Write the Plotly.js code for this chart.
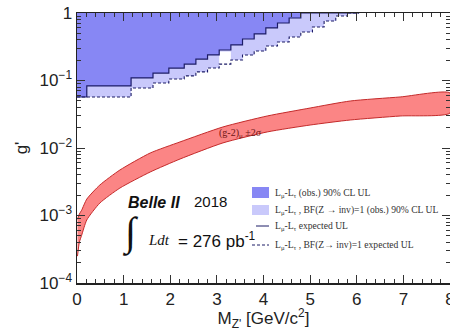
<!DOCTYPE html>
<html>
<head>
<meta charset="utf-8">
<script src="https://cdn.plot.ly/plotly-3.0.1.min.js"></script>
<style>html,body{margin:0;padding:0;background:#fff;}#plot{width:450px;height:331px;}</style>
</head>
<body>
<div id="plot"></div>
<script>
// Bin edges (GeV/c^2) of the stepped upper-limit curves
const binEdges = [0, 0.21, 1.16, 1.63, 1.97, 2.30, 2.55, 2.80, 3.05, 3.30, 3.55, 3.80, 4.05, 4.30, 4.55, 4.80, 5.05, 5.30, 5.55, 5.80, 6.05];
// L_mu - L_tau observed 90% CL UL on g'
const obsUL = [0.057, 0.083, 0.109, 0.129, 0.153, 0.175, 0.208, 0.239, 0.283, 0.336, 0.412, 0.489, 0.600, 0.711, 0.843, 1.0, 1.0, 1.0, 1.0, 1.0];
// L_mu - L_tau, BF(Z' -> inv) = 1 observed 90% CL UL
const obsULinv = [0.057, 0.057, 0.0774, 0.0918, 0.105, 0.117, 0.134, 0.153, 0.27, 0.201, 0.239, 0.274, 0.325, 0.372, 0.441, 0.523, 0.621, 0.761, 0.903, 1.0];
// expected UL curves
const expUL = [0.057, 0.083, 0.109, 0.129, 0.153, 0.175, 0.208, 0.239, 0.283, 0.336, 0.412, 0.489, 0.600, 0.711, 0.843, 1.0, 1.0, 1.0, 1.0, 1.0];
const expULinv = [0.057, 0.057, 0.0774, 0.0918, 0.105, 0.117, 0.134, 0.153, 0.175, 0.201, 0.239, 0.274, 0.325, 0.372, 0.441, 0.523, 0.621, 0.761, 0.903, 1.0];

// (g-2)_mu +-2 sigma band
const bandMass = [0.01, 0.05, 0.1, 0.21, 0.49, 0.92, 1.57, 2.21, 3.13, 4.08, 5.0, 5.86, 6.93, 8.0];
const bandUpper = [8.8e-4, 1.05e-3, 1.2e-3, 1.75e-3, 2.83e-3, 4.72e-3, 8.43e-3, 0.0123, 0.0205, 0.0298, 0.0391, 0.0497, 0.057, 0.0653];
const bandLower = [2.5e-4, 4.0e-4, 5.1e-4, 8.6e-4, 1.53e-3, 2.55e-3, 4.41e-3, 6.87e-3, 0.0119, 0.0173, 0.0219, 0.026, 0.0298, 0.033];

const xTicks = [0, 1, 2, 3, 4, 5, 6, 7, 8];
const yTicks = [1e-4, 1e-3, 1e-2, 1e-1, 1];
const yTickText = ['10<sup>−4</sup>', '10<sup>−3</sup>', '10<sup>−2</sup>', '10<sup>−1</sup>', '1'];

function staircase(edges, vals) {
  const xs = [], ys = [];
  for (let i = 0; i < vals.length; i++) {
    xs.push(edges[i], edges[i + 1]);
    ys.push(vals[i], vals[i]);
  }
  return {xs, ys};
}
// region above a stepped limit, closed along g' = 1
function excluded(edges, vals) {
  const s = staircase(edges, vals);
  const last = edges[edges.length - 1];
  return {x: s.xs.concat([last, 0]), y: s.ys.concat([1, 1])};
}

const lightReg = excluded(binEdges, obsULinv);
const darkReg = excluded(binEdges, obsUL);
const solid = staircase(binEdges, expUL);
const dashed = staircase(binEdges, expULinv);

const traces = [
  {x: bandMass.concat(bandMass.slice().reverse()),
   y: bandUpper.concat(bandLower.slice().reverse()),
   type: 'scatter', mode: 'lines', fill: 'toself', fillcolor: '#fb8585',
   line: {color: '#c42a2a', width: 1, shape: 'spline', smoothing: 0.6}, hoverinfo: 'skip'},
  {x: lightReg.x, y: lightReg.y, type: 'scatter', mode: 'lines', fill: 'toself',
   fillcolor: '#c9c9fb', line: {width: 0}, hoverinfo: 'skip'},
  {x: darkReg.x, y: darkReg.y, type: 'scatter', mode: 'lines', fill: 'toself',
   fillcolor: '#8787f4', line: {width: 0}, hoverinfo: 'skip'},
  {x: solid.xs, y: solid.ys, type: 'scatter', mode: 'lines',
   line: {color: '#1c1c66', width: 1.2}, hoverinfo: 'skip'},
  {x: dashed.xs, y: dashed.ys, type: 'scatter', mode: 'lines',
   line: {color: '#1c1c66', width: 1.1, dash: '3px,2px'}, hoverinfo: 'skip'}
];

const px = v => (v - 77) / 373;
const py = v => (283 - v) / 270;
const sans = 'Liberation Sans, Arial, sans-serif';
const serif = 'Liberation Serif, Times New Roman, serif';
const legFont = {family: serif, size: 9.6, color: '#333'};

const annotations = [
  {text: '(g-2)<sub>μ</sub> ±2σ', x: px(240), y: py(133), font: {family: serif, size: 10, color: '#6e1414'}},
  {text: '<b><i>Belle II</i></b>', x: px(126), y: py(202), xanchor: 'left', font: {family: sans, size: 16, color: '#111'}},
  {text: '2018', x: px(192), y: py(201), xanchor: 'left', font: {family: sans, size: 15, color: '#111'}},
  {text: '∫', x: px(130), y: py(232), font: {family: serif, size: 40, color: '#111'}},
  {text: '<i>Ldt</i>', x: px(146), y: py(240), xanchor: 'left', font: {family: serif, size: 15, color: '#111'}},
  {text: '= 276 pb<sup>-1</sup>', x: px(176), y: py(240), xanchor: 'left', font: {family: sans, size: 17, color: '#111'}},
  {text: 'L<sub>μ</sub>-L<sub>τ</sub> (obs.) 90% CL UL', x: px(273), y: py(193), xanchor: 'left', font: legFont},
  {text: 'L<sub>μ</sub>-L<sub>τ</sub> , BF(Z → inv)=1 (obs.) 90% CL UL', x: px(273), y: py(210), xanchor: 'left', font: legFont},
  {text: 'L<sub>μ</sub>-L<sub>τ</sub> expected UL', x: px(273), y: py(226), xanchor: 'left', font: legFont},
  {text: 'L<sub>μ</sub>-L<sub>τ</sub> , BF(Z→ inv)=1 expected UL', x: px(273), y: py(245), xanchor: 'left', font: legFont}
].map(a => Object.assign({xref: 'paper', yref: 'paper', showarrow: false, yanchor: 'middle', xanchor: a.xanchor || 'center'}, a));

const shapes = [
  {type: 'rect', x0: px(252), x1: px(269), y0: py(198), y1: py(187), fillcolor: '#8787f4', line: {width: 0}},
  {type: 'rect', x0: px(252), x1: px(269), y0: py(215), y1: py(205), fillcolor: '#c9c9fb', line: {width: 0}},
  {type: 'line', x0: px(256), x1: px(269), y0: py(226), y1: py(226), line: {color: '#1c1c66', width: 1}},
  {type: 'line', x0: px(252), x1: px(269), y0: py(245), y1: py(245), line: {color: '#1c1c66', width: 1, dash: '3px,2px'}}
].map(s => Object.assign({xref: 'paper', yref: 'paper'}, s));

const minorY = [];
for (let d = -4; d < 0; d++) for (let k = 2; k <= 9; k++) minorY.push(k * Math.pow(10, d));

const layout = {
  width: 450, height: 331,
  margin: {l: 77, r: 0, t: 13, b: 48, pad: 0},
  paper_bgcolor: '#fff', plot_bgcolor: '#fff',
  showlegend: false,
  font: {family: sans, color: '#222'},
  xaxis: {
    range: [0, 8], tickvals: xTicks, ticktext: xTicks.map(String),
    ticklabeloverflow: 'allow',
    ticks: 'inside', ticklen: 8, tickwidth: 1, tickcolor: '#333',
    showline: true, linecolor: '#222', linewidth: 1.5, mirror: 'ticks',
    showgrid: false, zeroline: false,
    minor: {ticks: 'inside', ticklen: 4, dtick: 0.2, tickcolor: '#333', showgrid: false},
    tickfont: {family: sans, size: 17, color: '#222'},
    title: {text: "M<sub>Z'</sub> [GeV/c<sup>2</sup>]", font: {family: sans, size: 17, color: '#222'}, standoff: 6}
  },
  yaxis: {
    type: 'log', range: [-4, 0], tickvals: yTicks, ticktext: yTickText,
    ticks: 'inside', ticklen: 8, tickwidth: 1, tickcolor: '#333',
    showline: true, linecolor: '#222', linewidth: 1.5, mirror: 'ticks',
    showgrid: false, zeroline: false,
    minor: {ticks: 'inside', ticklen: 4, tickvals: minorY, tickcolor: '#333', showgrid: false},
    tickfont: {family: sans, size: 17, color: '#222'},
    title: {text: "g'", font: {family: sans, size: 17, color: '#222'}, standoff: 7}
  },
  annotations: annotations,
  shapes: shapes
};

Plotly.newPlot('plot', traces, layout, {staticPlot: true, displayModeBar: false});
</script>
</body>
</html>
